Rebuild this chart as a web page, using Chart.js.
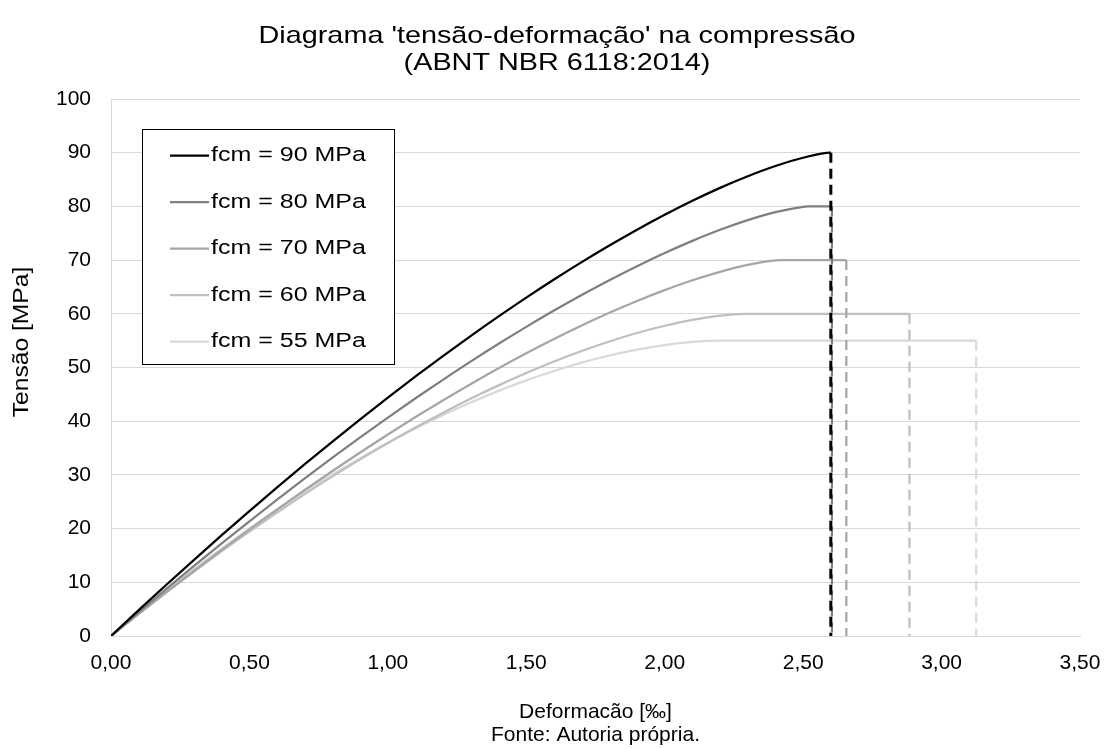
<!DOCTYPE html>
<html>
<head>
<meta charset="utf-8">
<script src="https://cdn.jsdelivr.net/npm/chart.js@4/dist/chart.umd.min.js"></script>
<style>
  html, body { margin: 0; padding: 0; background: #fff; }
  #wrap { width: 1105px; height: 749px; }
</style>
</head>
<body>
<div id="wrap"><canvas id="myChart"></canvas></div>
<script>
// deformação [‰] - common grid for the rising branch
const strain = [0, 0.1, 0.2, 0.3, 0.4, 0.5, 0.6, 0.7, 0.8, 0.9, 1.0, 1.1, 1.2,
  1.3, 1.4, 1.5, 1.6, 1.7, 1.8, 1.9, 2.0, 2.1, 2.2, 2.3, 2.4, 2.5];

// tensão [MPa]
const s90 = [0, 4.81, 9.54, 14.19, 18.77, 23.26, 27.67, 31.99, 36.21, 40.35, 44.39, 48.33, 52.17,
  55.90, 59.51, 63.01, 66.38, 69.62, 72.72, 75.67, 78.45, 81.05, 83.45, 85.62, 87.52, 89.06];
const s80 = [0, 4.42, 8.77, 13.05, 17.24, 21.36, 25.40, 29.35, 33.22, 36.99, 40.68, 44.27, 47.75,
  51.14, 54.41, 57.56, 60.60, 63.50, 66.26, 68.87, 71.32, 73.58, 75.64, 77.44, 78.93, 79.93];
const s70 = [0, 4.13, 8.18, 12.15, 16.04, 19.84, 23.56, 27.19, 30.73, 34.18, 37.52, 40.77, 43.91,
  46.93, 49.85, 52.64, 55.29, 57.81, 60.18, 62.39, 64.41, 66.24, 67.82, 69.11, 69.95];
const s60 = [0, 4.11, 8.12, 12.01, 15.79, 19.45, 23.00, 26.42, 29.72, 32.89, 35.93, 38.83, 41.59,
  44.21, 46.67, 48.97, 51.12, 53.08, 54.85, 56.43, 57.77, 58.87, 59.66];
const s55 = [0, 4.30, 8.46, 12.45, 16.30, 19.99, 23.51, 26.88, 30.08, 33.11, 35.98, 38.67, 41.18,
  43.51, 45.65, 47.60, 49.35, 50.90, 52.23, 53.32, 54.18, 54.76];

const labels = ['fcm = 90 MPa', 'fcm = 80 MPa', 'fcm = 70 MPa', 'fcm = 60 MPa', 'fcm = 55 MPa'];
const fcm = [90, 80, 70, 60, 55];
const epsPeak = [2.60, 2.516, 2.416, 2.288, 2.20];   // start of the plateau
const epsUlt = [2.60, 2.604, 2.656, 2.884, 3.125];   // end of the plateau (dashed drop)
const colors = ['#000000', '#7f7f7f', '#a6a6a6', '#bfbfbf', '#d9d9d9'];
const dashWidth = [3, 2.25, 2.25, 2.25, 2.25];

const xTicks = [0, 0.5, 1, 1.5, 2, 2.5, 3, 3.5];
const yTicks = [0, 10, 20, 30, 40, 50, 60, 70, 80, 90, 100];

const titleLines = ["Diagrama 'tensão-deformação' na compressão", '(ABNT NBR 6118:2014)'];
const yTitle = 'Tensão [MPa]';

const FONT = 'Arial, "Liberation Sans", sans-serif';
const stresses = [s90, s80, s70, s60, s55];

const curves = stresses.map((s, i) => {
  const pts = s.map((y, k) => ({ x: strain[k], y }));
  pts.push({ x: epsPeak[i], y: fcm[i] });
  pts.push({ x: epsUlt[i], y: fcm[i] });
  return {
    label: labels[i],
    data: pts,
    borderColor: colors[i],
    borderWidth: 2.25,
    pointRadius: 0,
    cubicInterpolationMode: 'monotone',
    fill: false,
    order: i
  };
});

const drops = fcm.map((f, i) => ({
  label: '',
  data: [{ x: epsUlt[i], y: f }, { x: epsUlt[i], y: 0 }],
  borderColor: colors[i],
  borderWidth: dashWidth[i],
  borderDash: [10, 6],
  pointRadius: 0,
  fill: false,
  order: i - 10
}));

// text a bit wider than the plain font, as in the original figure
function wideText(ctx, text, x, y, size, sx, rot) {
  ctx.save();
  ctx.translate(x, y);
  if (rot) ctx.rotate(rot);
  ctx.scale(sx, 1);
  ctx.font = size + 'px ' + FONT;
  ctx.fillStyle = '#000';
  ctx.textAlign = 'center';
  ctx.textBaseline = 'middle';
  ctx.fillText(text, 0, 0);
  ctx.restore();
}

const extraText = {
  id: 'extraText',
  afterDraw(chart) {
    const ctx = chart.ctx;
    wideText(ctx, titleLines[0], 557, 36, 24, 1.2);
    wideText(ctx, titleLines[1], 557, 63, 24, 1.2);
    wideText(ctx, yTitle, 22, 342, 22, 1.12, -Math.PI / 2);
  }
};

// legend drawn as a framed box inside the plot, like the original
const boxLegend = {
  id: 'boxLegend',
  afterDraw(chart) {
    const ctx = chart.ctx;
    const a = chart.chartArea;
    const x0 = a.left + 31, y0 = a.top + 30, w = 252, h = 235;
    ctx.save();
    ctx.fillStyle = '#fff';
    ctx.fillRect(x0, y0, w, h);
    ctx.strokeStyle = '#000';
    ctx.lineWidth = 1;
    ctx.strokeRect(x0 + 0.5, y0 + 0.5, w, h);
    labels.forEach((t, i) => {
      const y = y0 + 26.5 + i * 46.5;
      ctx.strokeStyle = colors[i];
      ctx.lineWidth = 2.25;
      ctx.beginPath();
      ctx.moveTo(x0 + 28, y);
      ctx.lineTo(x0 + 67, y);
      ctx.stroke();
      ctx.save();
      ctx.translate(x0 + 69, y);
      ctx.scale(1.25, 1);
      ctx.font = '20px ' + FONT;
      ctx.fillStyle = '#000';
      ctx.textBaseline = 'middle';
      ctx.fillText(t, 0, 0);
      ctx.restore();
    });
    ctx.restore();
  }
};

const ctx = document.getElementById('myChart').getContext('2d');

const config = {
  type: 'line',
  data: { datasets: curves.concat(drops) },
  options: {
    responsive: true,
    maintainAspectRatio: false,
    animation: false,
    layout: { padding: { left: 0, right: 25, top: 99, bottom: 0 } },
    plugins: {
      legend: { display: false },
      tooltip: { enabled: false },
      title: { display: false }
    },
    scales: {
      x: {
        type: 'linear',
        min: 0,
        max: 3.5,
        afterBuildTicks: (s) => { s.ticks = xTicks.map(v => ({ value: v })); },
        afterFit: (s) => { s.height = 113; s.paddingLeft = 0; s.paddingRight = 0; },
        grid: { display: false, drawTicks: false },
        border: { display: true, color: '#d9d9d9', width: 1 },
        ticks: {
          color: '#000',
          padding: 15,
          maxRotation: 0,
          font: { family: FONT, size: 21 },
          callback: (v) => v.toFixed(2).replace('.', ',')
        },
        title: {
          display: true,
          text: ['Deformacão [‰]', 'Fonte: Autoria própria.'],
          color: '#000',
          font: { family: FONT, size: 21, lineHeight: 1.1 },
          padding: { top: 0, bottom: 2 }
        }
      },
      y: {
        min: 0,
        max: 100,
        afterBuildTicks: (s) => { s.ticks = yTicks.map(v => ({ value: v })); },
        afterFit: (s) => { s.width = 111; s.paddingTop = 0; s.paddingBottom = 0; },
        grid: { color: '#d9d9d9', lineWidth: 1, drawTicks: false },
        border: { display: true, color: '#d9d9d9', width: 1 },
        ticks: {
          color: '#000',
          padding: 20,
          font: { family: FONT, size: 21 }
        }
      }
    }
  },
  plugins: [boxLegend, extraText]
};

const myChart = new Chart(ctx, config);
</script>
</body>
</html>
